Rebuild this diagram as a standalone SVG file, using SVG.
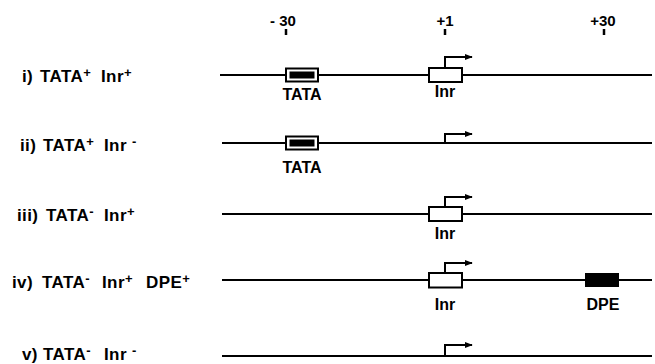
<svg xmlns="http://www.w3.org/2000/svg" width="655" height="364" viewBox="0 0 655 364">
<style>
text{font-family:"Liberation Sans",Arial,sans-serif;font-weight:bold;fill:#000}
.lab{font-size:17px;letter-spacing:0.4px}
.sup{font-size:13px}
.el{font-size:16px;text-anchor:middle}
.pos{font-size:15px;text-anchor:middle}
.dna{stroke:#000;stroke-width:2;fill:none}
.tick{stroke:#000;stroke-width:2.5}
.box{fill:#fff;stroke:#000;stroke-width:2}
.tata-in{fill:#000}
.dpe{fill:#000}
.tss{stroke:#000;stroke-width:2;fill:none}
</style>
<defs>
<marker id="ah" viewBox="0 0 10 10" refX="9" refY="5" markerWidth="4" markerHeight="4" markerUnits="strokeWidth" orient="auto">
<path d="M0,1 L10,5 L0,9 z" fill="#000"/>
</marker>
</defs>
<rect width="655" height="364" fill="#fff"/>

<g id="scale">
<text class="pos" x="283" y="26">- 30</text>
<line class="tick" x1="286" y1="29" x2="286" y2="35"/>
<text class="pos" x="445" y="26">+1</text>
<line class="tick" x1="445" y1="29" x2="445" y2="35"/>
<text class="pos" x="603" y="26">+30</text>
<line class="tick" x1="604" y1="29" x2="604" y2="35"/>
</g>

<g id="labels">
<text class="lab" y="82"><tspan x="22">i)</tspan><tspan x="40">TATA</tspan><tspan class="sup" dy="-5">+</tspan><tspan x="101" dy="5">Inr</tspan><tspan class="sup" dy="-5">+</tspan></text>
<text class="lab" y="151"><tspan x="20">ii)</tspan><tspan x="43">TATA</tspan><tspan class="sup" dy="-5">+</tspan><tspan x="104" dy="5">Inr </tspan><tspan class="sup" dy="-5">-</tspan></text>
<text class="lab" y="221"><tspan x="17">iii)</tspan><tspan x="46">TATA</tspan><tspan class="sup" dy="-5">-</tspan><tspan x="104" dy="5">Inr</tspan><tspan class="sup" dy="-5">+</tspan></text>
<text class="lab" y="288"><tspan x="12">iv)</tspan><tspan x="42">TATA</tspan><tspan class="sup" dy="-5">-</tspan><tspan x="102" dy="5">Inr</tspan><tspan class="sup" dy="-5">+</tspan><tspan x="146" dy="5">DPE</tspan><tspan class="sup" dy="-5">+</tspan></text>
<text class="lab" y="360"><tspan x="22">v)</tspan><tspan x="43">TATA</tspan><tspan class="sup" dy="-5">-</tspan><tspan x="104" dy="5">Inr </tspan><tspan class="sup" dy="-5">-</tspan></text>
</g>

<g id="dna-lines">
<line class="dna" x1="220" y1="75" x2="652" y2="75"/>
<line class="dna" x1="222" y1="143" x2="652" y2="143"/>
<line class="dna" x1="222" y1="214" x2="652" y2="214"/>
<line class="dna" x1="222" y1="280" x2="652" y2="280"/>
<line class="dna" x1="222" y1="356" x2="652" y2="356"/>
</g>

<g id="row1-tata">
<rect class="box" x="286" y="68.5" width="32" height="13" stroke-width="1.6"/>
<rect class="tata-in" x="289.5" y="71.5" width="25" height="7"/>
<text class="el" x="302" y="100">TATA</text>
</g>
<g id="row1-inr">
<rect class="box" x="429" y="68" width="33" height="14"/>
<text class="el" x="445" y="97">Inr</text>
</g>

<g id="row2-tata">
<rect class="box" x="286" y="136.5" width="32" height="13" stroke-width="1.6"/>
<rect class="tata-in" x="289.5" y="139.5" width="25" height="7"/>
<text class="el" x="302" y="173">TATA</text>
</g>

<g id="row3-inr">
<rect class="box" x="429" y="207" width="33" height="14"/>
<text class="el" x="445" y="239">Inr</text>
</g>

<g id="row4-inr">
<rect class="box" x="429" y="273" width="33" height="14.5"/>
<text class="el" x="445" y="310">Inr</text>
</g>
<g id="row4-dpe">
<rect class="dpe" x="585" y="273" width="34" height="14"/>
<text class="el" x="603" y="310">DPE</text>
</g>

<g id="connectors">
<path class="tss" d="M445,68 V57 H472" marker-end="url(#ah)"/>
<path class="tss" d="M445,143 V134 H472" marker-end="url(#ah)"/>
<path class="tss" d="M445,207 V197 H472" marker-end="url(#ah)"/>
<path class="tss" d="M445,273 V263 H472" marker-end="url(#ah)"/>
<path class="tss" d="M445,356 V345 H472" marker-end="url(#ah)"/>
</g>
</svg>
